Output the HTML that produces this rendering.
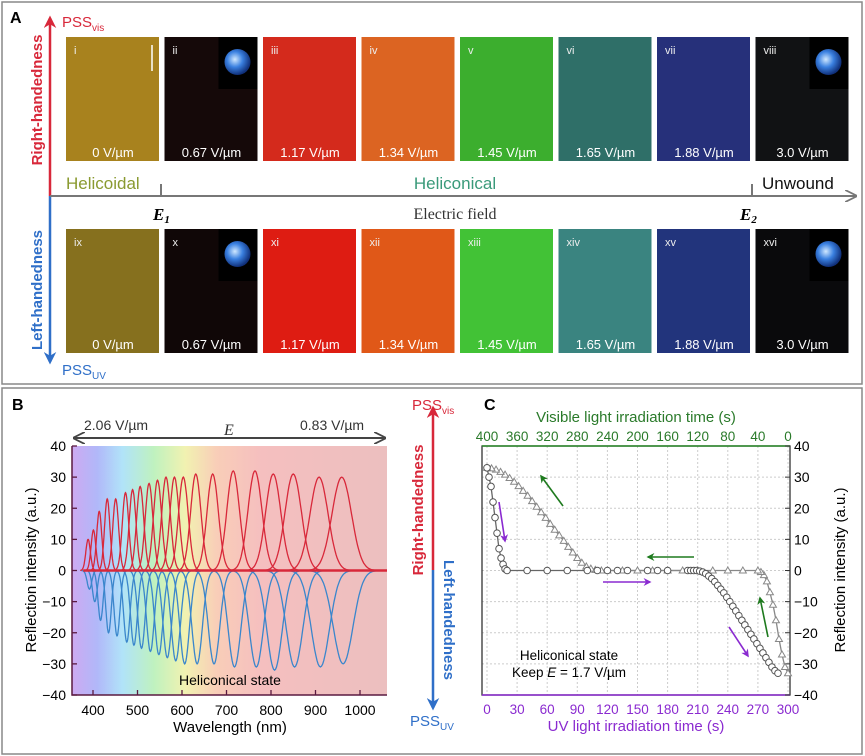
<!DOCTYPE html>
<html><head><meta charset="utf-8"><style>
html,body{margin:0;padding:0;background:#fff;}
svg{display:block;font-family:"Liberation Sans",sans-serif;}
</style></head><body>
<svg id="fig" width="865" height="756" viewBox="0 0 865 756" xmlns="http://www.w3.org/2000/svg">
<defs>
<linearGradient id="rainbow" x1="0" x2="1" y1="0" y2="0">
<stop offset="0" stop-color="#c8a0f0"/><stop offset="0.08" stop-color="#a8b0f8"/>
<stop offset="0.16" stop-color="#a8e0f8"/><stop offset="0.26" stop-color="#b8f0b8"/>
<stop offset="0.36" stop-color="#f0f0a8"/><stop offset="0.46" stop-color="#f8c8b0"/>
<stop offset="0.6" stop-color="#f4b8b8"/><stop offset="1" stop-color="#eab8b8"/>
</linearGradient>
<radialGradient id="disc" cx="0.4" cy="0.4" r="0.6"><stop offset="0" stop-color="#d0e8ff"/><stop offset="0.5" stop-color="#3a80e0"/><stop offset="1" stop-color="#10307a"/></radialGradient>
<marker id="ahg" viewBox="0 0 10 10" refX="9" refY="5" markerWidth="6" markerHeight="6" orient="auto"><path d="M0,0 L10,5 L0,10" fill="none" stroke="#777" stroke-width="1.5"/></marker>
<marker id="ahk" viewBox="0 0 10 10" refX="9" refY="5" markerWidth="6" markerHeight="6" orient="auto-start-reverse"><path d="M0,0 L10,5 L0,10" fill="none" stroke="#444" stroke-width="1.5"/></marker>
<marker id="ahr" viewBox="0 0 10 10" refX="8" refY="5" markerWidth="5" markerHeight="5" orient="auto"><path d="M0,0 L10,5 L0,10 L3,5z" fill="#d8283a"/></marker>
<marker id="ahb" viewBox="0 0 10 10" refX="8" refY="5" markerWidth="5" markerHeight="5" orient="auto"><path d="M0,0 L10,5 L0,10 L3,5z" fill="#2f6fc8"/></marker>
<marker id="ahgr" viewBox="0 0 10 10" refX="8" refY="5" markerWidth="5" markerHeight="5" orient="auto"><path d="M0,0 L10,5 L0,10 L3,5z" fill="#1e7a1e"/></marker>
<marker id="ahp" viewBox="0 0 10 10" refX="8" refY="5" markerWidth="5" markerHeight="5" orient="auto"><path d="M0,0 L10,5 L0,10 L3,5z" fill="#8a2ad0"/></marker>
</defs>

<!-- Panel A -->
<rect x="2" y="2" width="860" height="382" fill="#fff" stroke="#888" stroke-width="1.5"/>
<text x="10" y="23" font-size="16" font-weight="bold">A</text>
<line x1="50" y1="196" x2="50" y2="18" stroke="#d8283a" stroke-width="2.5" marker-end="url(#ahr)"/>
<line x1="50" y1="196" x2="50" y2="362" stroke="#2f6fc8" stroke-width="2.5" marker-end="url(#ahb)"/>
<text x="62" y="27" fill="#d8283a" font-size="15">PSS<tspan font-size="10" dy="4">vis</tspan></text>
<text x="62" y="375" fill="#2f6fc8" font-size="15">PSS<tspan font-size="10" dy="4">UV</tspan></text>
<text transform="translate(42,100) rotate(-90)" text-anchor="middle" fill="#d8283a" font-size="15" font-weight="bold">Right-handedness</text>
<text transform="translate(42,290) rotate(-90)" text-anchor="middle" fill="#2f6fc8" font-size="15" font-weight="bold">Left-handedness</text>
<line x1="50" y1="196" x2="856" y2="196" stroke="#777" stroke-width="2" marker-end="url(#ahg)"/>
<line x1="161" y1="184" x2="161" y2="196" stroke="#777" stroke-width="2"/>
<line x1="752" y1="184" x2="752" y2="196" stroke="#777" stroke-width="2"/>
<text x="66" y="189" fill="#8a9a30" font-size="17">Helicoidal</text>
<text x="455" y="189" fill="#3a9a7a" font-size="17" text-anchor="middle">Heliconical</text>
<text x="762" y="189" fill="#111" font-size="17">Unwound</text>
<text x="153" y="220" font-family="Liberation Serif,serif" font-style="italic" font-weight="bold" font-size="17">E<tspan font-size="11" dy="3">1</tspan></text>
<text x="740" y="220" font-family="Liberation Serif,serif" font-style="italic" font-weight="bold" font-size="17">E<tspan font-size="11" dy="3">2</tspan></text>
<text x="455" y="219" font-family="Liberation Serif,serif" font-size="16" text-anchor="middle" fill="#333">Electric field</text>
<g id="tiles"></g>

<!-- Panel B -->
<rect x="2" y="388" width="860" height="366" fill="#fff" stroke="#888" stroke-width="1.5"/>
<text x="12" y="410" font-size="16" font-weight="bold">B</text>
<g id="chartB"></g>
<line x1="433" y1="570" x2="433" y2="408" stroke="#d8283a" stroke-width="2.5" marker-end="url(#ahr)"/>
<line x1="433" y1="570" x2="433" y2="708" stroke="#2f6fc8" stroke-width="2.5" marker-end="url(#ahb)"/>
<text x="412" y="410" fill="#d8283a" font-size="15">PSS<tspan font-size="10" dy="4">vis</tspan></text>
<text x="410" y="726" fill="#2f6fc8" font-size="15">PSS<tspan font-size="10" dy="4">UV</tspan></text>
<text transform="translate(423,510) rotate(-90)" text-anchor="middle" fill="#d8283a" font-size="15" font-weight="bold">Right-handedness</text>
<text transform="translate(444,620) rotate(90)" text-anchor="middle" fill="#2f6fc8" font-size="15" font-weight="bold">Left-handedness</text>

<!-- Panel C -->
<text x="484" y="410" font-size="16" font-weight="bold">C</text>
<g id="chartC"></g>
</svg>
<script>
// ---------- Panel A tile data ----------
const tileNumsTop = ["i","ii","iii","iv","v","vi","vii","viii"];
const tileNumsBot = ["ix","x","xi","xii","xiii","xiv","xv","xvi"];
const tileFields = ["0 V/µm","0.67 V/µm","1.17 V/µm","1.34 V/µm","1.45 V/µm","1.65 V/µm","1.88 V/µm","3.0 V/µm"];
const tileColorsTop = ["#a8821e","#150909","#d42a1c","#dc6422","#3cae2e","#2f6f68","#26307a","#111214"];
const tileColorsBot = ["#86701e","#100707","#de1c12","#e05818","#42c236","#3a8480","#22347c","#0a0a0c"];
const insetTiles = [1,7];

// ---------- Panel B data ----------
const peakCenters = [389,401,414,432,451,473,489,506,526,545,564,583,603,631,669,715,764,805,850,908,959];
const peakHeightsR = [10,13,19,23,23,25,26,27,28,29,30,30,30,31,31,32,32,31,31,30,30];
const peakHeightsL = [-6,-10,-16,-20,-21,-23,-24,-25,-26,-27,-28,-29,-30,-30,-30,-31,-31,-32,-31,-31,-30];
const xTicksB = [400,500,600,700,800,900,1000];
const yTicksB = [40,30,20,10,0,-10,-20,-30,-40];

// ---------- Panel C data ----------
const uvTime = [0,2,4,6,8,10,12,14,16,18,20,40,60,80,100,110,120,130,140,160,170,180,200,203,206,209,212,215,218,221,224,227,230,233,236,239,242,245,248,251,254,257,260,263,266,269,272,275,278,281,284,287,290];
const uvVal  = [33,30,27,22,17,12,7,4,2,0.5,0,0,0,0,0,0,0,0,0,0,0,0,0,0,0,0,-0.2,-0.5,-1,-1.8,-2.6,-3.6,-4.8,-6,-7.2,-8.6,-10,-11.5,-13,-14.5,-16,-17.5,-19,-20.5,-22,-23.5,-25,-26.5,-28,-29.5,-31,-32.2,-33];
const visTime = [0,4,8,12,16,20,24,28,32,36,40,60,80,100,120,140,160,180,200,220,240,248,256,262,268,274,280,286,292,298,304,310,316,322,328,334,340,346,352,358,364,370,376,382,388,394,400];
const visVal  = [-33,-31,-27,-22,-16,-11,-7,-3.5,-1.5,-0.5,0,0,0,0,0,0,0,0,0,0,0,0,0.2,0.6,1.3,2.5,4,5.8,7.6,9.5,11.3,13.1,15,16.9,18.7,20.5,22.3,24,25.6,27.1,28.5,29.7,30.8,31.7,32.4,32.8,33];
const xTicksC = [0,30,60,90,120,150,180,210,240,270,300];
const xTicksTop = [400,360,320,280,240,200,160,120,80,40,0];
const yTicksC = [40,30,20,10,0,-10,-20,-30,-40];

const NS = "http://www.w3.org/2000/svg";
function mk(parent, tag, attrs, text){
  const el = document.createElementNS(NS, tag);
  for (const k in attrs) el.setAttribute(k, attrs[k]);
  if (text !== undefined) el.textContent = text;
  parent.appendChild(el);
  return el;
}

(function(){
  const g = document.getElementById("tiles");
  const rows = [{y:37, nums:tileNumsTop, cols:tileColorsTop},{y:229, nums:tileNumsBot, cols:tileColorsBot}];
  rows.forEach((row) => {
    for (let i = 0; i < 8; i++) {
      const x = 66 + i * 98.5;
      const r = mk(g, "rect", {x:x, y:row.y, width:93, height:124, fill:row.cols[i]});
      
      
      if (insetTiles.includes(i)) {
        const ins = mk(g, "rect", {x:x+54, y:row.y, width:39, height:52, fill:"#000"});
        
        
        const c = mk(g, "circle", {cx:x+73, cy:row.y+25, r:13, fill:"url(#disc)"});
        
        
      }
      const n = mk(g, "text", {x:x+8, y:row.y+17, fill:"#eee", "font-size":11}, row.nums[i]);
      
      
      const f = mk(g, "text", {x:x+47, y:row.y+120, fill:"#fff", "font-size":13, "text-anchor":"middle"}, tileFields[i]);
      
      
    }
  });
  const sb = mk(g, "line", {x1:152, y1:45, x2:152, y2:71, stroke:"#fff", "stroke-width":1.5});
  
  
})();

(function(){
  const g = document.getElementById("chartB");
  const L=72, R=387, T=446, B=695;
  const xs = nm => 93 + (nm - 400) * (267/600);
  const ys = v => T + (40 - v) * (B - T) / 80;
  const bg = mk(g, "rect", {x:L, y:T, width:R-L, height:B-T, fill:"url(#rainbow)", opacity:0.9});
  
  
  const sig = c => 5 + 17 * Math.pow(Math.max(c - 385, 0) / 575, 1.1);
  function peakPath(c, h){
    const s = sig(c);
    let d = "";
    for (let l = c - 3.5*s; l <= c + 3.5*s; l += s/8) {
      const v = h * Math.exp(-0.5 * Math.pow((l - c)/s, 2));
      d += (d ? "L" : "M") + xs(l).toFixed(1) + "," + ys(v).toFixed(1);
    }
    return d;
  }
  for (let i = 0; i < peakCenters.length; i++) {
    const pb = mk(g, "path", {d:peakPath(peakCenters[i]+3, peakHeightsL[i]), fill:"none", stroke:"#3a86cc", "stroke-width":1.3});
    
    
  }
  for (let i = 0; i < peakCenters.length; i++) {
    const pr = mk(g, "path", {d:peakPath(peakCenters[i], peakHeightsR[i]), fill:"none", stroke:"#d8283a", "stroke-width":1.3});
    
    
  }
  const base = mk(g, "line", {x1:xs(378), y1:ys(0), x2:R, y2:ys(0), stroke:"#d8283a", "stroke-width":2.5});
  
  
  const ax = mk(g, "path", {d:`M${L},${T} V${B} H${R}`, fill:"none", stroke:"#5a1a40", "stroke-width":1.5});
  
  
  yTicksB.forEach(v => {
    const t = mk(g, "line", {x1:L, y1:ys(v), x2:L+5, y2:ys(v), stroke:"#5a1a40", "stroke-width":1.3});
    
    
    const tl = mk(g, "text", {x:L-6, y:ys(v)+5, "font-size":14, "text-anchor":"end"}, v < 0 ? "\u2212" + (-v) : String(v));
    
    
  });
  xTicksB.forEach(v => {
    const t = mk(g, "line", {x1:xs(v), y1:B, x2:xs(v), y2:B-5, stroke:"#5a1a40", "stroke-width":1.3});
    
    
    const tl = mk(g, "text", {x:xs(v), y:B+20, "font-size":14, "text-anchor":"middle"}, String(v));
    
    
  });
  const yt = mk(g, "text", {transform:"translate(36,570) rotate(-90)", "font-size":15, "text-anchor":"middle"}, "Reflection intensity (a.u.)");
  
  
  const xt = mk(g, "text", {x:230, y:732, "font-size":15, "text-anchor":"middle"}, "Wavelength (nm)");
  
  
  const hs = mk(g, "text", {x:230, y:685, "font-size":14, "text-anchor":"middle"}, "Heliconical state");
  
  
  const ea = mk(g, "line", {x1:74, y1:438, x2:385, y2:438, stroke:"#444", "stroke-width":2, "marker-start":"url(#ahk)", "marker-end":"url(#ahk)"});
  
  
  const e1 = mk(g, "text", {x:84, y:430, "font-size":14, fill:"#333"}, "2.06 V/µm");
  
  
  const e2 = mk(g, "text", {x:300, y:430, "font-size":14, fill:"#333"}, "0.83 V/µm");
  
  
  const ee = mk(g, "text", {x:224, y:435, "font-size":16, "font-style":"italic", "font-family":"Liberation Serif,serif", fill:"#333"}, "E");
  
  
})();

(function(){
  const g = document.getElementById("chartC");
  const L=482, R=790, T=446, B=695;
  const xs = t => 487 + t * (301/300);
  const xv = t => xs(300 - t * 0.75);
  const ys = v => T + (40 - v) * (B - T) / 80;
  xTicksC.forEach(v => {
    const gl = mk(g, "line", {x1:xs(v), y1:T, x2:xs(v), y2:B, stroke:"#ccc", "stroke-width":1, "stroke-dasharray":"2,2"});
    
    
  });
  yTicksC.forEach(v => {
    const gl = mk(g, "line", {x1:L, y1:ys(v), x2:R, y2:ys(v), stroke:"#ccc", "stroke-width":1, "stroke-dasharray":"2,2"});
    
    
  });
  const fr = mk(g, "rect", {x:L, y:T, width:R-L, height:B-T, fill:"none", stroke:"#333", "stroke-width":1.3});
  
  
  const ta = mk(g, "line", {x1:L, y1:T, x2:R, y2:T, stroke:"#2a8a2a", "stroke-width":1.5});
  
  
  const ba = mk(g, "line", {x1:L, y1:B, x2:R, y2:B, stroke:"#8a2ad0", "stroke-width":1.5});
  
  
  yTicksC.forEach(v => {
    const tl = mk(g, "text", {x:R+4, y:ys(v)+5, "font-size":14}, v < 0 ? "\u2212" + (-v) : String(v));
    
    
    const tk = mk(g, "line", {x1:R-5, y1:ys(v), x2:R, y2:ys(v), stroke:"#333"});
    
    
  });
  xTicksC.forEach(v => {
    const tl = mk(g, "text", {x:xs(v), y:B+19, "font-size":13.5, fill:"#8a2ad0", "text-anchor":"middle"}, String(v));
    
    
  });
  xTicksTop.forEach(v => {
    const tl = mk(g, "text", {x:xv(v), y:T-5, "font-size":13.5, fill:"#2a7a2a", "text-anchor":"middle"}, String(v));
    
    
  });
  let d1 = uvTime.map((t,i) => (i ? "L" : "M") + xs(t).toFixed(1) + "," + ys(uvVal[i]).toFixed(1)).join("");
  const l1 = mk(g, "path", {d:d1, fill:"none", stroke:"#666", "stroke-width":1.3});
  
  
  let d2 = visTime.map((t,i) => (i ? "L" : "M") + xv(t).toFixed(1) + "," + ys(visVal[i]).toFixed(1)).join("");
  const l2 = mk(g, "path", {d:d2, fill:"none", stroke:"#888", "stroke-width":1.3});
  
  
  visTime.forEach((t,i) => {
    const x = xv(t), y = ys(visVal[i]);
    const p = mk(g, "path", {d:`M${x},${y-3.5}L${x+3.5},${y+2.5}L${x-3.5},${y+2.5}Z`, fill:"#fff", stroke:"#888", "stroke-width":1});
    
    
  });
  uvTime.forEach((t,i) => {
    const c = mk(g, "circle", {cx:xs(t), cy:ys(uvVal[i]), r:3.3, fill:"#fff", stroke:"#555", "stroke-width":1});
    
    
  });
  const arrows = [
    [563,506,541,476,"ahgr","#1e7a1e"],[694,557,648,557,"ahgr","#1e7a1e"],[768,637,760,598,"ahgr","#1e7a1e"],
    [499,502,505,541,"ahp","#8a2ad0"],[603,582,650,582,"ahp","#8a2ad0"],[729,627,748,656,"ahp","#8a2ad0"]];
  arrows.forEach(a => {
    const ar = mk(g, "line", {x1:a[0], y1:a[1], x2:a[2], y2:a[3], stroke:a[5], "stroke-width":1.6, "marker-end":`url(#${a[4]})`});
    
    
  });
  const t1 = mk(g, "text", {x:569, y:660, "font-size":13.5, "text-anchor":"middle"}, "Heliconical state");
  
  
  const t2 = mk(g, "text", {x:569, y:677, "font-size":13.5, "text-anchor":"middle"});
  t2.innerHTML = 'Keep <tspan font-style="italic">E</tspan> = 1.7 V/µm';
  
  
  const tt = mk(g, "text", {x:636, y:422, "font-size":15, fill:"#2a7a2a", "text-anchor":"middle"}, "Visible light irradiation time (s)");
  
  
  const bt = mk(g, "text", {x:636, y:731, "font-size":15, fill:"#8a2ad0", "text-anchor":"middle"}, "UV light irradiation time (s)");
  
  
  const yt = mk(g, "text", {transform:"translate(845,570) rotate(-90)", "font-size":15, "text-anchor":"middle"}, "Reflection intensity (a.u.)");
  
  
})();
</script>
</body></html>
